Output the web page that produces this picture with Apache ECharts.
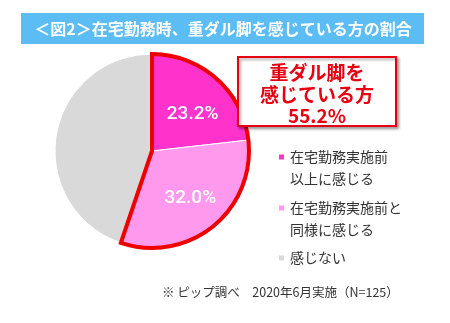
<!DOCTYPE html>
<html><head><meta charset="utf-8">
<script src="https://cdn.jsdelivr.net/npm/echarts@6/dist/echarts.min.js"></script>
<style>html,body{margin:0;padding:0;background:#fff}#c{width:450px;height:323px}</style>
</head><body><div id="c"></div>
<script>
const titleText = "＜図2＞在宅勤務時、重ダル脚を感じている方の割合";
const categories = ["在宅勤務実施前以上に感じる", "在宅勤務実施前と同様に感じる", "感じない"];
const legendLabels = ["在宅勤務実施前\n以上に感じる", "在宅勤務実施前と\n同様に感じる", "感じない"];
const values = [23.2, 32.0, 44.8];
const colors = ["#ff33cc", "#ff99ee", "#d9d9d9"];
const calloutLines = ["重ダル脚を", "感じている方", "55.2%"];
const footnote = "※ ピップ調べ　2020年6月実施（N=125）";

const FONT = '"Noto Sans CJK JP", "Noto Sans", sans-serif';
const felt = values[0] + values[1];
const notFelt = values[2];
const center = [152, 151];
const R = 97;

const chart = echarts.init(document.getElementById('c'), null, {renderer: 'canvas'});

const legendTops = [124, 175, 247];
const legends = categories.map((name, i) => {
  const twoLine = legendLabels[i].indexOf('\n') >= 0;
  return {
    orient: 'vertical', left: 277, top: legendTops[i], padding: 0,
    icon: 'rect', itemWidth: 7, itemHeight: 7,
    selectedMode: false,
    data: [{name: name}],
    formatter: () => (twoLine ? ' \n' : '') + legendLabels[i],
    textStyle: {fontFamily: FONT, fontSize: 14, color: '#333', lineHeight: 22}
  };
});

// shift the first slice's label slightly down (blank leading line)
const labelShift = [true, false, false];

chart.setOption({
  animation: false,
  color: colors,
  legend: legends,
  graphic: [
    {type: 'rect', z: 10, shape: {x: 21, y: 13, width: 403, height: 31}, style: {fill: '#5bbdf4'}},
    {type: 'text', z: 11, x: 223, y: 29, style: {text: titleText, fill: '#fff', font: 'bold 16px ' + FONT, align: 'center', verticalAlign: 'middle'}},
    {type: 'rect', z: 10, shape: {x: 238, y: 57, width: 158, height: 69},
      style: {fill: '#fff', stroke: '#e60012', lineWidth: 2, shadowBlur: 3, shadowColor: 'rgba(0,0,0,0.35)', shadowOffsetX: 2, shadowOffsetY: 2}},
    {type: 'text', z: 11, x: 317, y: 73, style: {text: calloutLines[0], fill: '#e60012', font: 'bold 19px ' + FONT, align: 'center', verticalAlign: 'middle'}},
    {type: 'text', z: 11, x: 317, y: 95, style: {text: calloutLines[1], fill: '#e60012', font: 'bold 19px ' + FONT, align: 'center', verticalAlign: 'middle'}},
    {type: 'text', z: 11, x: 317, y: 116, style: {text: calloutLines[2], fill: '#e60012', font: 'bold 19px ' + FONT, align: 'center', verticalAlign: 'middle'}},
    {type: 'text', z: 11, x: 162, y: 292, style: {text: footnote, fill: '#333', font: '12.5px ' + FONT, align: 'left', verticalAlign: 'middle'}}
  ],
  series: [
    {
      type: 'pie', center: center, radius: [0, R], startAngle: 90, clockwise: true,
      silent: true, label: {show: false}, labelLine: {show: false},
      itemStyle: {borderColor: '#fff', borderWidth: 1},
      data: categories.map((n, i) => ({name: n, value: values[i]}))
    },
    {
      type: 'pie', center: center, radius: [0, R], startAngle: 90, clockwise: true,
      silent: true, label: {show: false}, labelLine: {show: false}, z: 3,
      data: [
        {name: 'felt', value: felt, itemStyle: {color: 'rgba(0,0,0,0)', borderColor: '#ee0000', borderWidth: 4, borderJoin: 'miter'}},
        {name: 'notFelt', value: notFelt, itemStyle: {color: 'rgba(0,0,0,0)', borderWidth: 0}}
      ]
    },
    {
      type: 'pie', center: center, radius: [0, 116], startAngle: 90, clockwise: true,
      silent: true, z: 4, labelLine: {show: false},
      itemStyle: {color: 'rgba(0,0,0,0)', borderWidth: 0},
      label: {show: true, position: 'inside', fontFamily: 'Roboto, sans-serif', fontWeight: 500, fontSize: 19, color: '#fff', lineHeight: 18,
        formatter: p => p.dataIndex < 2 ? (labelShift[p.dataIndex] ? ' \n' : '') + p.value.toFixed(1) + '%' : ''},
      data: categories.map((n, i) => ({name: 'lbl' + i, value: values[i]}))
    }
  ]
});
</script></body></html>
